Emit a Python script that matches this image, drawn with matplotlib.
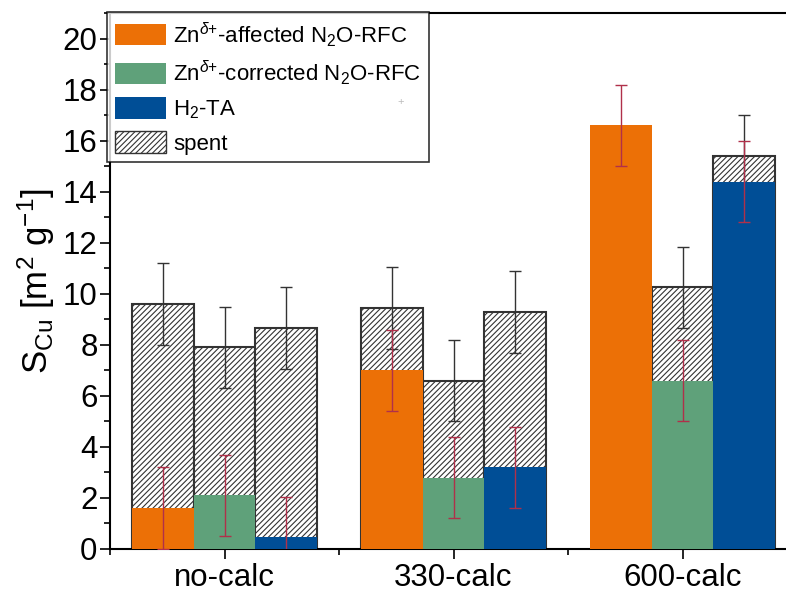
import numpy as np
from matplotlib import pyplot as plt
from matplotlib.patches import Patch
from matplotlib.ticker import MultipleLocator, FixedLocator

plt.rcParams['font.family'] = ['Liberation Sans', 'DejaVu Sans']
plt.rcParams['mathtext.fontset'] = 'custom'
plt.rcParams['mathtext.rm'] = 'Liberation Sans'
plt.rcParams['mathtext.it'] = 'Liberation Sans:italic'
plt.rcParams['hatch.color'] = '#555555'
plt.rcParams['hatch.linewidth'] = 0.8

# data
groups = ['no-calc', '330-calc', '600-calc']
series = [r'Zn$^{\delta{+}}$-affected N$_2$O-RFC',
          r'Zn$^{\delta{+}}$-corrected N$_2$O-RFC',
          r'H$_2$-TA']
colors = ['#EC7006', '#5FA17A', '#004E96']

affected = [1.6, 7.0, 16.6]
corrected = [2.1, 2.8, 6.6]
h2ta = [0.45, 3.2, 14.4]
fresh_err = 1.6

spent_affected = [9.6, 9.45, np.nan]
spent_corrected = [7.9, 6.6, 10.25]
spent_h2ta = [8.65, 9.3, 15.4]
spent_err = 1.6

fresh = [affected, corrected, h2ta]
spent = [spent_affected, spent_corrected, spent_h2ta]

fig = plt.figure(figsize=(7.86, 5.94), dpi=100)
ax = fig.add_axes([0.140, 0.0758, 0.874, 0.902])

x = np.arange(len(groups))
w = 0.27
offsets = [-w, 0, w]

# spent (hatched) bars first, then their error bars
for k in range(3):
    ax.bar(x + offsets[k], spent[k], w, facecolor='white', edgecolor='#333333',
           linewidth=1.5, hatch='//////', zorder=1)
    ax.errorbar(x + offsets[k], spent[k], yerr=spent_err, fmt='none',
                ecolor='#333333', elinewidth=1.0, capsize=4, capthick=1.0, zorder=2)

# fresh bars on top
for k in range(3):
    ax.bar(x + offsets[k], fresh[k], w, color=colors[k], linewidth=0, zorder=3)
    ax.errorbar(x + offsets[k], fresh[k], yerr=fresh_err, fmt='none',
                ecolor='#B0304A', elinewidth=1.0, capsize=4, capthick=1.0, zorder=4)

ax.set_xlim(-0.5, 2.5)
ax.set_ylim(0, 21)
ax.set_xticks(x)
ax.set_xticklabels(groups)
ax.xaxis.set_minor_locator(FixedLocator([-0.5, 0.5, 1.5]))
ax.yaxis.set_major_locator(MultipleLocator(2))
ax.yaxis.set_minor_locator(MultipleLocator(1))
ax.tick_params(axis='both', which='major', direction='out', length=7, width=1.2,
               labelsize=22.5)
ax.tick_params(axis='both', which='minor', direction='out', length=4, width=1.2)
ax.tick_params(axis='x', pad=3)
ax.tick_params(axis='y', pad=2)
for s in ax.spines.values():
    s.set_linewidth(1.5)

ax.set_ylabel(r'S$_{\mathrm{Cu}}$ [m$^2$ g$^{-1}$]', fontsize=25, labelpad=4)

handles = [Patch(facecolor=c, edgecolor='none') for c in colors]
handles.append(Patch(facecolor='white', edgecolor='#333333', hatch='//////'))
leg = ax.legend(handles, series + ['spent'], loc='upper left',
                bbox_to_anchor=(-0.004, 1.002), fontsize=16, frameon=True,
                fancybox=False, edgecolor='black', handlelength=2.3,
                handleheight=1.1, labelspacing=0.45, handletextpad=0.3,
                borderpad=0.35, borderaxespad=0)
leg.get_frame().set_linewidth(1.2)
leg.set_zorder(10)

# small cursor mark next to the H2-TA entry
fig.text(0.505, 0.823, '+', color='#BBBBBB', fontsize=8)

fig.savefig('out.png', dpi=100)
